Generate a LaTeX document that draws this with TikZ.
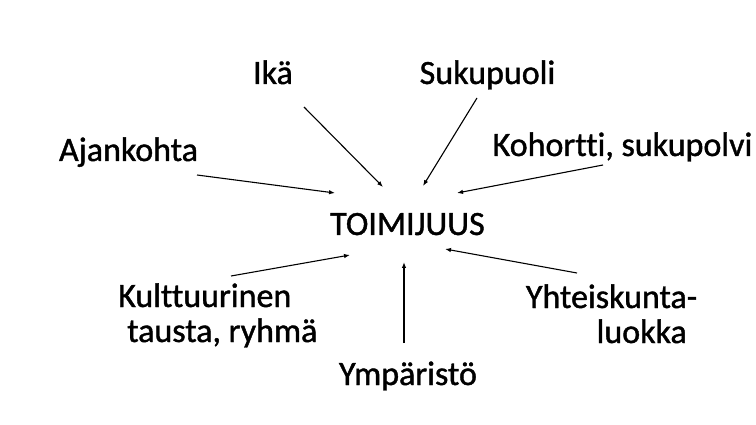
\documentclass[tikz,border=0pt]{standalone}
\usepackage{fontspec}
\setmainfont{Carlito}[Ligatures=NoCommon, FakeBold=1.2]
\usepackage{tikz}
\usetikzlibrary{arrows.meta}
\tikzset{
  font={\fontsize{34pt}{35pt}\selectfont},
  arr/.style={-{Latex[length=6pt,width=4.5pt]}, line width=1.1pt}}

\begin{document}
\begin{tikzpicture}[x=1pt,y=-1pt]
\tikzstyle{every node}+=[inner sep=0pt, anchor=base]
\useasboundingbox (0,0) rectangle (756,425);
\node (toim) at (407.5,235) {TOIMIJUUS};
\node (ika) at (273,84) {Ikä};
\node (suku) at (487.5,84) {Sukupuoli};
\node (ajan) at (128.5,161) {Ajankohta};
\node (koho) at (622.5,156) {Kohortti, sukupolvi};
\node (kult) [anchor=base west, align=left] at (118,342) {Kulttuurinen\\\hspace*{9pt}tausta, ryhmä};
\node (yht) [anchor=base east, align=right] at (687,343) {Yhteiskunta\rlap{-}\\luokka};
\node (ymp) at (408,385) {Ympäristö};
\draw [arr] ([shift={(31,23)}]ika.base) -- ([shift={(-24.5,-48)}]toim.base);
\draw [arr] ([shift={(-10.5,14)}]suku.base) -- ([shift={(15.5,-49)}]toim.base);
\draw [arr] ([shift={(68.5,14)}]ajan.base) -- ([shift={(-72.5,-42)}]toim.base);
\draw [arr] ([shift={(-19.5,9)}]koho.base) -- ([shift={(49.5,-42)}]toim.base);
\draw [arr] ([shift={(113,-66)}]kult.base west) -- ([shift={(-57.5,20)}]toim.base);
\draw [arr] ([shift={(-4,-42)}]ymp.base) -- ([shift={(-3.5,27)}]toim.base);
\draw [arr] ([shift={(-110,-70)}]yht.base east) -- ([shift={(37.5,14)}]toim.base);
\end{tikzpicture}
\end{document}
